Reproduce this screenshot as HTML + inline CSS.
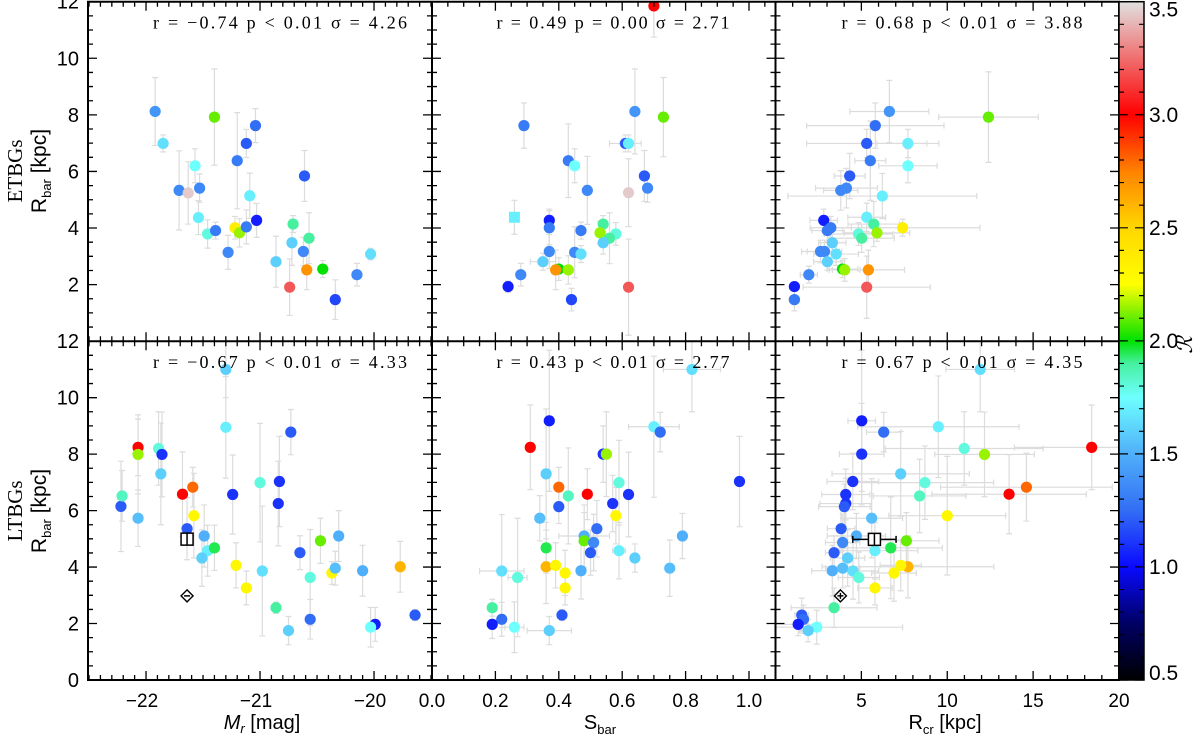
<!DOCTYPE html>
<html><head><meta charset="utf-8">
<style>
html,body{margin:0;padding:0;background:#fff;}
svg{display:block;}
text{font-family:"Liberation Sans",sans-serif;fill:#000;}
.st{font-family:"Liberation Serif",serif;font-size:18px;}
</style></head>
<body>
<svg id="chart" width="1200" height="737" viewBox="0 0 1200 737" xmlns="http://www.w3.org/2000/svg">
<defs>
<linearGradient id="cmap" x1="0" y1="1" x2="0" y2="0"></linearGradient>
</defs>
<g id="marks"></g>
<g id="frame"></g>
</svg>
<script>
// ---------- data ----------
const tlX=[-21.92,-21.85,-21.71,-21.63,-21.57,-21.53,-21.54,-21.46,-21.40,-21.39,-21.28,-21.20,-21.22,-21.18,-21.12,-21.12,-21.09,-21.04,-21.03,-20.86,-20.74,-20.72,-20.71,-20.62,-20.61,-20.59,-20.57,-20.45,-20.34,-20.15,-20.03];
const tlY=[8.12,6.99,5.33,5.24,6.2,5.41,4.37,3.79,7.92,3.91,3.14,6.38,4.01,3.83,6.99,4.04,5.14,7.62,4.27,2.81,1.91,3.48,4.14,3.17,5.84,2.52,3.64,2.55,1.47,2.35,3.08];
const tlR=[1.4,1.65,1.35,3.45,1.75,1.35,1.7,1.8,2.1,1.3,1.35,1.3,2.35,2.15,1.2,1.3,1.7,1.25,1.05,1.6,3.2,1.6,1.9,1.35,1.2,2.7,1.9,2.0,1.15,1.35,1.65];
const tlYerr=[1.2,0.3,1.4,1.1,0.6,0.5,0.6,0.5,1.7,0.3,0.6,1.7,0.4,0.5,0.5,0.6,0.8,0.6,0.6,0.9,1.0,0.8,0.3,0.5,0.9,0.7,0.9,0.3,0.7,0.4,0.2];
const tmX=[0.70,0.29,0.64,0.73,0.61,0.62,0.43,0.45,0.67,0.68,0.49,0.62,0.26,0.37,0.37,0.47,0.54,0.53,0.58,0.56,0.54,0.37,0.45,0.47,0.35,0.40,0.39,0.43,0.28,0.24,0.62,0.44];
const tmY=[11.85,7.62,8.12,7.92,6.99,6.99,6.38,6.2,5.84,5.41,5.33,5.25,4.38,4.27,4.01,3.91,4.14,3.83,3.79,3.64,3.48,3.17,3.14,3.08,2.81,2.55,2.52,2.52,2.35,1.93,1.91,1.47];
const tmR=[3.0,1.3,1.4,2.1,1.2,1.7,1.3,1.75,1.2,1.35,1.35,3.45,1.7,1.05,1.3,1.3,1.9,2.15,1.8,1.9,1.6,1.35,1.35,1.65,1.6,2.0,2.7,2.15,1.35,1.05,3.2,1.15];
const tmYerr=[1.1,0.8,1.5,1.4,0.3,0.3,1.3,0.6,0.9,0.5,1.2,1.2,0.6,0.4,0.6,0.3,0.3,0.4,0.4,0.9,0.4,0.6,0.9,0.3,0.3,0.4,0.7,0.5,0.4,0.2,1.7,0.4];
const tmXerr=[0,0,0,0,0.05,0,0,0,0,0,0,0,0,0,0,0,0,0,0,0,0,0,0,0,0.04,0,0,0,0,0,0,0];
const trX=[12.40,6.63,5.81,5.31,7.71,5.52,7.71,4.32,4.13,3.80,6.22,5.31,2.81,3.22,3.02,5.72,7.40,5.91,4.83,5.02,3.31,2.62,2.85,3.53,3.02,3.90,4.03,5.41,1.94,1.10,5.31,1.10];
const trY=[7.92,8.12,7.62,6.99,6.99,6.38,6.2,5.84,5.41,5.33,5.13,4.38,4.27,4.01,3.91,4.14,4.01,3.83,3.79,3.64,3.48,3.17,3.17,3.08,2.81,2.55,2.52,2.52,2.35,1.93,1.91,1.47];
const trR=[2.1,1.4,1.25,1.2,1.7,1.3,1.75,1.2,1.35,1.35,1.7,1.7,1.05,1.3,1.3,1.9,2.35,2.15,1.8,1.9,1.6,1.35,1.35,1.65,1.6,2.0,2.15,2.7,1.35,1.05,3.2,1.3];
const trYerr=[1.6,1.1,0.8,0.5,0.5,1.4,0.6,0.8,0.7,0.7,0.8,0.5,0.4,0.4,0.4,0.8,0.3,0.3,0.4,0.5,0.3,0.4,0.4,0.4,0.3,0.3,0.4,0.7,0.3,0.1,1.1,0.4];
const trXerr=[2.9,2.3,4.0,3.5,1.8,0.9,1.7,0.9,1.8,1.0,5.5,1.1,0.8,1.2,0.9,1.5,4.5,1.9,2.0,1.9,0.8,1.1,1.0,1.3,0.8,0.9,0.9,2.1,0.5,0.2,3.7,0.3];
const blX=[-22.22,-22.21,-22.07,-22.07,-22.07,-21.89,-21.86,-21.87,-21.68,-21.59,-21.58,-21.64,-21.49,-21.46,-21.40,-21.51,-21.30,-21.30,-21.24,-21.21,-21.12,-21.00,-20.98,-20.86,-20.83,-20.84,-20.75,-20.73,-20.65,-20.56,-20.56,-20.47,-20.37,-20.34,-20.31,-20.10,-19.99,-20.03,-19.77,-19.64];
const blY=[6.15,6.52,8.24,7.99,5.73,8.2,7.99,7.30,6.58,6.83,5.82,5.36,5.10,4.58,4.68,4.32,11.0,8.95,6.57,4.06,3.26,6.99,3.86,2.56,7.03,6.25,1.75,8.78,4.51,3.63,2.15,4.93,3.79,3.96,5.10,3.87,1.97,1.87,4.01,2.30];
const blR=[1.2,1.85,3.0,2.15,1.55,1.8,1.1,1.6,3.0,2.8,2.3,1.2,1.5,1.7,1.95,1.6,1.6,1.7,1.1,2.3,2.3,1.8,1.65,1.9,1.1,1.1,1.6,1.2,1.2,1.8,1.25,2.1,2.3,1.55,1.5,1.5,1.05,1.75,2.6,1.2];
const blYerr=[1.6,0.9,1.0,1.4,1.0,1.3,1.5,1.8,1.5,0.7,1.5,1.1,1.1,0.9,0.8,1.0,1.0,1.8,1.4,0.8,0.6,2.1,2.3,0.2,1.6,1.5,0.5,0.8,0.6,1.7,0.7,0.8,0.4,0.6,0.9,0.9,0.6,0.7,0.9,0.2];
const bmX=[0.82,0.37,0.31,0.70,0.72,0.54,0.55,0.36,0.59,0.40,0.43,0.49,0.62,0.57,0.40,0.97,0.34,0.58,0.52,0.48,0.48,0.51,0.50,0.59,0.64,0.79,0.75,0.36,0.36,0.39,0.42,0.42,0.47,0.22,0.27,0.19,0.22,0.19,0.26,0.37,0.41];
const bmY=[11.0,9.18,8.24,8.97,8.78,8.0,8.0,7.30,6.99,6.83,6.52,6.58,6.57,6.25,6.14,7.03,5.73,5.82,5.36,5.10,4.93,4.87,4.51,4.58,4.32,5.10,3.96,4.68,4.01,4.06,3.79,3.26,3.87,3.86,3.63,2.56,2.15,1.97,1.87,1.75,2.30];
const bmR=[1.65,1.05,3.0,1.7,1.25,1.1,2.15,1.6,1.8,2.8,1.85,3.0,1.1,1.1,1.2,1.1,1.55,2.3,1.25,1.5,2.1,1.35,1.2,1.7,1.6,1.5,1.55,1.95,2.6,2.3,2.3,2.3,1.5,1.65,1.8,1.9,1.25,1.05,1.75,1.6,1.2];
const bmYerr=[1.5,2.5,1.5,2.5,0.7,1.0,1.5,2.3,1.5,0.7,1.7,0.9,1.5,1.0,0.6,1.6,0.8,1.0,1.0,1.1,1.0,1.0,0.8,1.0,0.5,0.8,1.0,0.9,1.3,0.8,0.8,0.6,1.0,2.0,2.1,0.3,0.6,0.5,0.9,0.5,0.2];
const bmXerr=[0.09,0,0,0.08,0,0,0,0,0,0,0,0,0,0,0,0,0,0,0,0.08,0,0,0,0.02,0,0,0,0,0,0,0,0,0,0.07,0.03,0,0,0.01,0.03,0.07,0];
const brX=[11.92,5.02,9.48,6.30,18.41,10.99,12.17,5.02,7.29,4.50,8.70,14.61,13.60,4.09,8.39,4.09,4.01,10.0,5.60,3.82,4.71,7.62,3.91,6.71,5.79,3.41,4.20,7.71,7.29,6.90,5.79,3.31,3.91,4.51,4.85,3.41,1.53,1.63,1.32,2.40,1.90];
const brY=[11.0,9.18,8.97,8.78,8.24,8.2,7.99,8.0,7.30,7.03,6.99,6.83,6.58,6.57,6.52,6.25,6.14,5.82,5.73,5.36,5.10,4.93,4.87,4.68,4.58,4.51,4.32,4.01,4.06,3.79,3.26,3.87,3.96,3.86,3.63,2.56,2.30,2.15,1.97,1.87,1.75];
const brR=[1.65,1.05,1.7,1.25,3.0,1.8,2.15,1.1,1.6,1.1,1.8,2.8,3.0,1.1,1.85,1.1,1.2,2.3,1.55,1.2,1.5,2.1,1.35,1.95,1.7,1.2,1.6,2.6,2.3,2.3,2.3,1.5,1.55,1.65,1.8,1.9,1.2,1.25,1.05,1.75,1.6];
const brYerr=[1.5,2.5,1.8,0.7,1.5,1.3,1.5,1.8,1.5,1.0,1.3,1.2,1.4,0.9,1.3,0.9,0.8,2.1,1.4,0.8,0.8,1.0,1.0,1.8,1.0,0.6,1.0,1.1,0.9,1.0,0.6,0.9,0.7,1.0,0.9,0.7,0.6,0.5,0.4,0.6,0.4];
const brXerr=[2.0,0.8,4.7,1.0,4.5,4.6,2.9,1.3,4.0,1.5,4.0,5.0,4.5,1.4,2.7,1.5,1.5,3.4,1.8,0.8,1.7,1.9,1.0,3.0,2.5,0.5,1.0,5.0,1.2,1.3,1.0,1.2,1.0,1.5,1.2,2.5,0.4,0.3,1.3,5.0,0.5];
const blSquare=[-21.64,4.99]; const blDiamond=[-21.64,2.98];
const brSquare=[5.76,4.98]; const brSquareXerr=[1.26]; const brDiamond=[3.78,2.98];
const tmSquare=[0.26,4.38];
const yTicksTop=[2,4,6,8,10,12];
const yTicksBot=[0,2,4,6,8,10,12];
const mrTicks=[-22,-21,-20];
const sbarTicks=[0.0,0.2,0.4,0.6,0.8,1.0];
const rcrTicks=[5,10,15,20];
const cbTicks=[0.5,1.0,1.5,2.0,2.5,3.0,3.5];
const stats=["r = \u22120.74 p < 0.01   \u03c3 = 4.26","r = 0.49 p = 0.00 \u03c3 = 2.71","r = 0.68 p < 0.01   \u03c3 = 3.88",
             "r = \u22120.67 p < 0.01   \u03c3 = 4.33","r = 0.43 p < 0.01   \u03c3 = 2.77","r = 0.67 p < 0.01   \u03c3 = 4.35"];
const statCx=[280,613,962,280,613,962];
const statW=[254,233,241,254,233,241];

const cStops=[[0.5,[0,0,0]],[0.75,[0,0,100]],[1.0,[10,10,255]],[1.25,[50,110,245]],[1.5,[80,175,250]],[1.75,[110,255,255]],[1.9,[70,240,160]],[2.0,[0,225,0]],[2.25,[255,255,0]],[2.5,[255,215,0]],[2.75,[255,130,0]],[3.0,[255,0,0]],[3.25,[240,110,110]],[3.5,[225,225,225]]];
function cmap(v){
  if(v<=cStops[0][0])return 'rgb(0,0,0)';
  for(let i=1;i<cStops.length;i++){
    if(v<=cStops[i][0]){const a=cStops[i-1],b=cStops[i];const t=(v-a[0])/(b[0]-a[0]);
      const c=a[1].map((x,k)=>Math.round(x+(b[1][k]-x)*t));return `rgb(${c.join(',')})`;}
  }
  return 'rgb(225,225,225)';
}
const NS='http://www.w3.org/2000/svg';
function el(tag,attrs,parent){const e=document.createElementNS(NS,tag);for(const k in attrs)e.setAttribute(k,attrs[k]);(parent||document.getElementById('marks')).appendChild(e);return e;}

const TOP={y0:341.2,y1:1.7}, BOT={y0:680,y1:341.2};
const COLS=[{x0:88,x1:432,min:-22.509,max:-22.509+344/114},{x0:432,x1:775.5,min:0,max:343.5/317},{x0:775.5,x1:1119,min:0,max:20}];
function sx(c,v){const C=COLS[c];return C.x0+(v-C.min)/(C.max-C.min)*(C.x1-C.x0);}
function sy(r,v){const R=r?BOT:TOP;return R.y0-(v/12)*(R.y0-R.y1);}

const marks=document.getElementById('marks'), frame=document.getElementById('frame');
const panels=[
 {r:0,c:0,X:tlX,Y:tlY,R:tlR,YE:tlYerr,XE:null,name:'etbg-mr'},
 {r:0,c:1,X:tmX,Y:tmY,R:tmR,YE:tmYerr,XE:tmXerr,name:'etbg-sbar'},
 {r:0,c:2,X:trX,Y:trY,R:trR,YE:trYerr,XE:trXerr,name:'etbg-rcr'},
 {r:1,c:0,X:blX,Y:blY,R:blR,YE:blYerr,XE:null,name:'ltbg-mr'},
 {r:1,c:1,X:bmX,Y:bmY,R:bmR,YE:bmYerr,XE:bmXerr,name:'ltbg-sbar'},
 {r:1,c:2,X:brX,Y:brY,R:brR,YE:brYerr,XE:brXerr,name:'ltbg-rcr'}];
const EC='#dcdcdc';
panels.forEach((p,pi)=>{
  const g=el('g',{},marks);
  
  
  const C=COLS[p.c], R=p.r?BOT:TOP;
  const cp=el('clipPath',{id:'clip'+pi},g);
  el('rect',{x:C.x0,y:R.y1,width:C.x1-C.x0,height:R.y0-R.y1},cp);
  const eg=el('g',{'clip-path':`url(#clip${pi})`},g);
  for(let i=0;i<p.X.length;i++){
    const x=sx(p.c,p.X[i]), y=sy(p.r,p.Y[i]);
    const ya=sy(p.r,p.Y[i]+p.YE[i]), yb=sy(p.r,p.Y[i]-p.YE[i]);
    el('path',{d:`M${x},${ya}V${yb}M${x-3},${ya}h6M${x-3},${yb}h6`,stroke:EC,'stroke-width':1.2,fill:'none'},eg);
    if(p.XE && p.XE[i]>0){
      const xa=sx(p.c,p.X[i]-p.XE[i]), xb=sx(p.c,p.X[i]+p.XE[i]);
      el('path',{d:`M${xa},${y}H${xb}M${xa},${y-3}v6M${xb},${y-3}v6`,stroke:EC,'stroke-width':1.2,fill:'none'},eg);
    }
  }
  for(let i=0;i<p.X.length;i++){
    const x=sx(p.c,p.X[i]), y=sy(p.r,p.Y[i]);
    let d;
    if(pi===1 && p.X[i]===tmSquare[0] && p.Y[i]===tmSquare[1]) d=el('rect',{x:x-5.5,y:y-5.5,width:11,height:11,fill:cmap(p.R[i])},eg);
    else d=el('circle',{cx:x,cy:y,r:5.6,fill:cmap(p.R[i])},eg);
    
    
  }
  const t=el('text',{x:statCx[pi]-statW[pi]/2,y:R.y1+27,'text-anchor':'start',class:'st',textLength:statW[pi],lengthAdjust:'spacing'},g);
  t.textContent=stats[pi];
  
  
});
function sqMark(c,r,pt,xerr){
  const x=sx(c,pt[0]), y=sy(r,pt[1]);
  if(xerr){const xa=sx(c,pt[0]-xerr),xb=sx(c,pt[0]+xerr);
    el('path',{d:`M${xa},${y}H${xb}M${xa},${y-3.5}v7M${xb},${y-3.5}v7`,stroke:'#000','stroke-width':1.5,fill:'none'},marks);}
  const g=el('path',{d:`M${x-6},${y-6}h12v12h-12zM${x},${y-6}V${y+6}`,stroke:'#000','stroke-width':1.5,fill:'#fff'},marks);
  
  
}
function dmMark(c,r,pt,cross){
  const x=sx(c,pt[0]), y=sy(r,pt[1]);
  const g=el('path',{d:`M${x},${y-6}L${x+6},${y}L${x},${y+6}L${x-6},${y}Z`+(cross?`M${x-3},${y}h6M${x},${y-3}v6`:`M${x-3},${y}h6`),stroke:'#000','stroke-width':1.4,fill:'#fff'},marks);
  
  
}
sqMark(0,1,blSquare,0); dmMark(0,1,blDiamond,false);
sqMark(2,1,brSquare,brSquareXerr[0]); dmMark(2,1,brDiamond,true);

function line(d,w){return el('path',{d:d,stroke:'#000','stroke-width':w||1.3,fill:'none'},frame);}
line('M88,1.7H1119V680H88Z',2);
line('M432,1.7V680M775.5,1.7V680M88,341.2H1119',2);
const xEdges=[88,432,775.5,1119];
[0,1].forEach(r=>{
  for(let v=0;v<=12.001;v+=0.5){
    const y=sy(r,v), big=Math.abs(v/2-Math.round(v/2))<1e-6, L=big?9:5;
    let d='';xEdges.forEach((x,i)=>{ if(i<3) d+=`M${x},${y}h${L}`; if(i>0) d+=`M${x},${y}h${-L}`;});
    line(d,1.3);
  }
});
const xt=[{step:0.1,major:1,min:-22.5,max:-19.49},{step:0.05,major:0.2,min:0,max:1.08},{step:1,major:5,min:1,max:19}];
xt.forEach((t,c)=>{
  const n0=Math.ceil(t.min/t.step-1e-6), n1=Math.floor(t.max/t.step+1e-6);
  for(let n=n0;n<=n1;n++){
    const v=n*t.step, x=sx(c,v); const q=v/t.major, big=Math.abs(q-Math.round(q))<1e-6, L=big?9:5;
    line(`M${x},680v${-L}M${x},341.2v${-L}M${x},341.2v${L}M${x},1.7v${L}`,1.3);
  }
});
function txt(x,y,s,anchor,size,name,extra){const t=el('text',Object.assign({x:x,y:y,'text-anchor':anchor||'middle','font-size':size||20},extra||{}),frame);t.textContent=s;return t;}
yTicksTop.forEach(v=>txt(79,sy(0,v)+7,String(v),'end',20,'y-tick-label'));
yTicksBot.forEach(v=>txt(79,sy(1,v)+7,String(v),'end',20,'y-tick-label'));
mrTicks.forEach(v=>txt(sx(0,v)-4,707,'\u2212'+Math.abs(v),'middle',19,'x-tick-label'));
sbarTicks.forEach(v=>txt(sx(1,v),707,v.toFixed(1),'middle',19,'x-tick-label'));
rcrTicks.forEach(v=>txt(sx(2,v),707,String(v),'middle',19,'x-tick-label'));
const at1=txt(262,729,'','middle',20,'x-axis-title-mr');
at1.innerHTML='<tspan font-style="italic">M</tspan><tspan font-size="13" dy="4" font-style="italic">r</tspan><tspan dy="-4"> [mag]</tspan>';
const at2=txt(600,729,'','middle',20,'x-axis-title-sbar');
at2.innerHTML='S<tspan font-size="13" dy="5">bar</tspan>';
const at3=txt(945,729,'','middle',20,'x-axis-title-rcr');
at3.innerHTML='R<tspan font-size="13" dy="5">cr</tspan><tspan dy="-5"> [kpc]</tspan>';
[[171,'ETBGs'],[511,'LTBGs']].forEach(([cy,lab])=>{
  const a=txt(0,0,lab,'middle',21,'row-label',{transform:`translate(22,${cy}) rotate(-90)`});
  a.style.fontFamily='"Liberation Serif",serif';
  const b=txt(0,0,'','middle',21,'y-axis-title',{transform:`translate(46,${cy}) rotate(-90)`});
  b.innerHTML='R<tspan font-size="13" dy="5">bar</tspan><tspan dy="-5"> [kpc]</tspan>';
});
const grad=document.getElementById('cmap');
cStops.forEach(s=>{const st=document.createElementNS(NS,'stop');st.setAttribute('offset',((s[0]-0.5)/3*100)+'%');st.setAttribute('stop-color',cmap(s[0]));grad.appendChild(st);});
const cb=el('rect',{x:1119,y:1.7,width:25,height:678.3,fill:'url(#cmap)',stroke:'#000','stroke-width':1.5},frame);


function cby(v){return 680-(v-0.5)/3*678.3;}
for(let v=0.5;v<=3.501;v+=0.1){const big=Math.abs(v*2-Math.round(v*2))<1e-6;line(`M1144,${cby(v)}h${big?-9:-5}M1119,${cby(v)}h${big?9:5}`,1.2);}
cbTicks.forEach(v=>txt(1149,cby(v)+(v===3.5?15:v===0.5?0:7),v.toFixed(1),'start',21,'colorbar-tick-label'));
txt(0,0,'\u211B','middle',22,'colorbar-title',{transform:'translate(1192,345) rotate(-90)','font-style':'italic'});
</script>
</body></html>
